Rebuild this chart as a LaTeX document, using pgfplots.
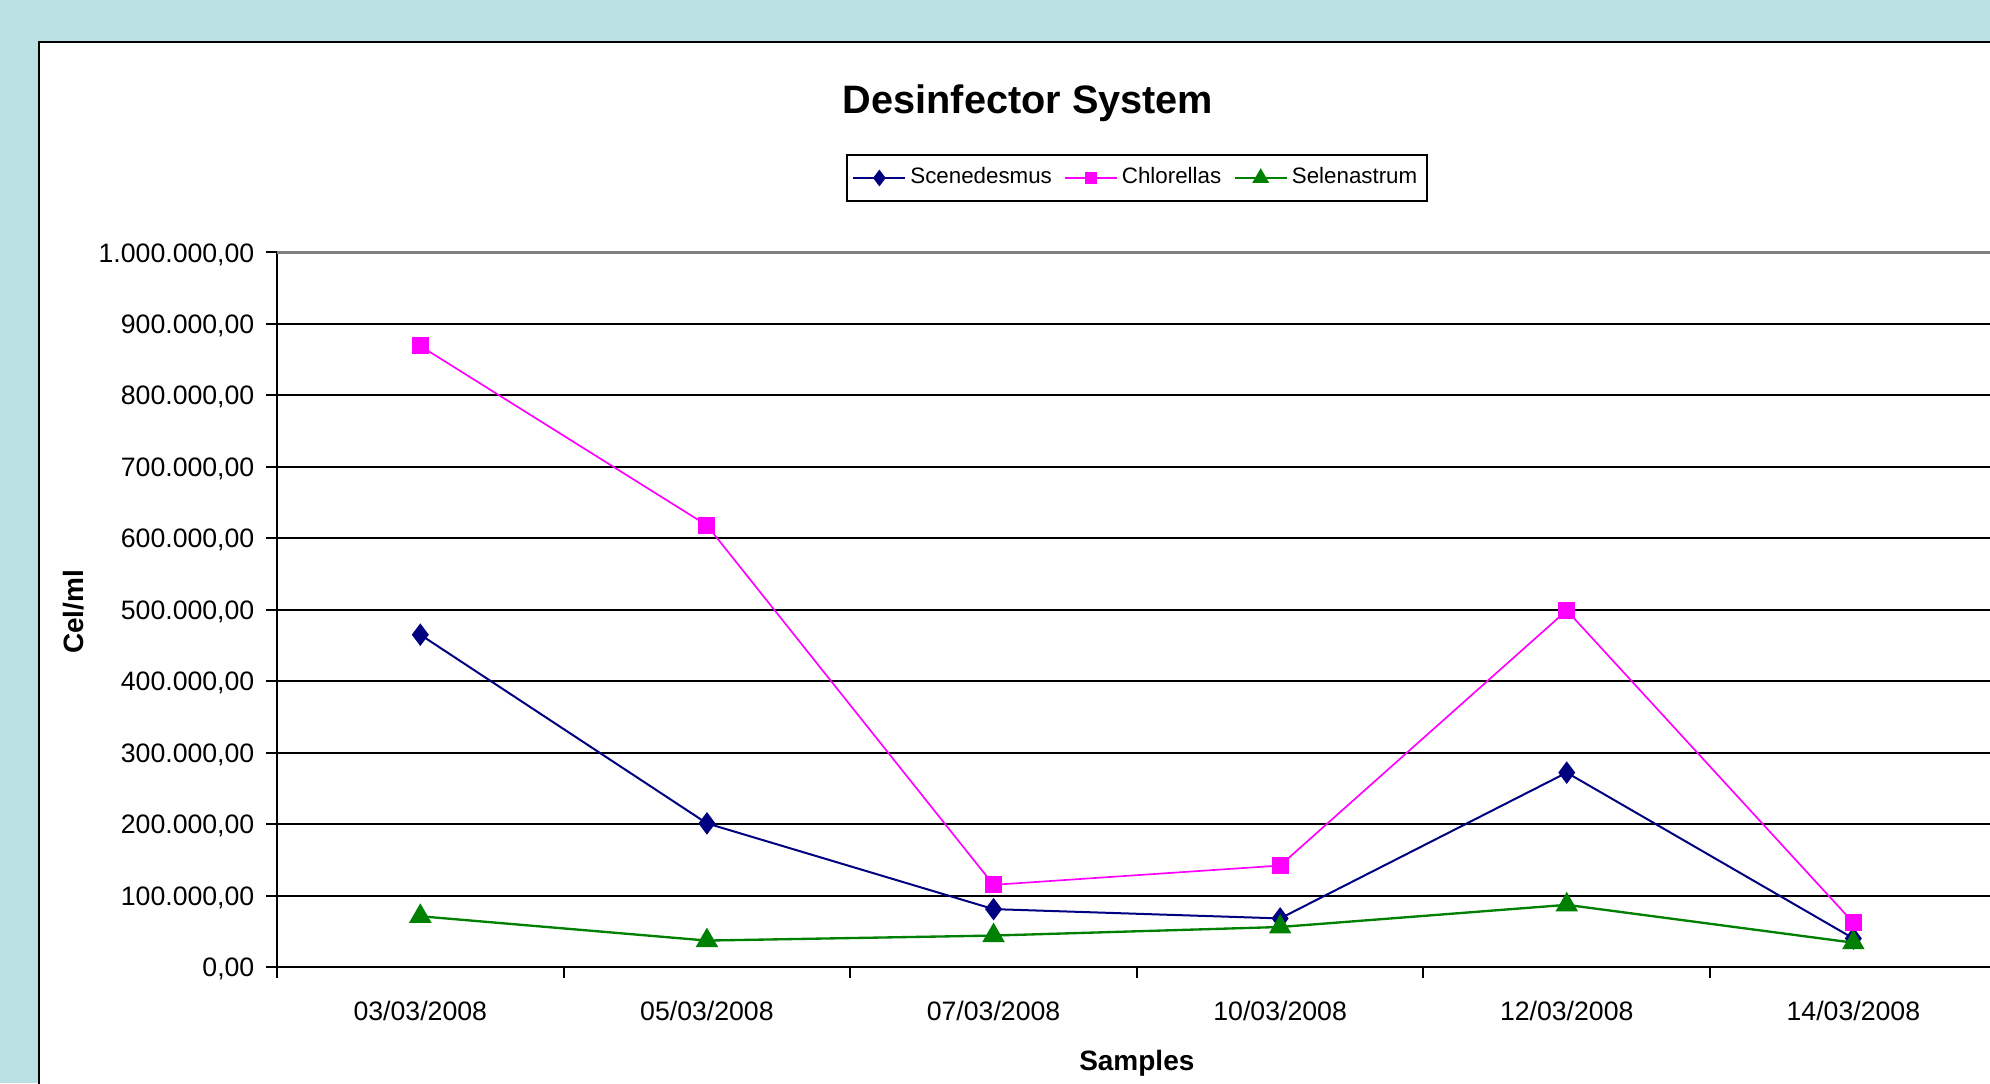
\documentclass[border=0pt]{standalone}
\usepackage{fontspec}
\setmainfont{Liberation Sans}
\usepackage{pgfplots}
\pgfplotsset{compat=1.18}
\definecolor{bgteal}{RGB}{186,224,227}
\definecolor{scen}{RGB}{0,0,128}
\definecolor{chlor}{RGB}{255,0,255}
\definecolor{selen}{RGB}{0,128,0}
\definecolor{topgray}{RGB}{128,128,128}
\begin{document}
\begin{tikzpicture}
\fill[bgteal] (0,0) rectangle (597pt,324.9pt);
\fill[white] (11.7pt,-2pt) rectangle (602pt,312.3pt);
\draw[black,line width=0.7pt] (11.7pt,-2pt) -- (11.7pt,312.3pt) -- (602pt,312.3pt);
\begin{axis}[
  at={(83.1pt,34.8pt)}, anchor=south west,
  scale only axis, width=515.9pt, height=214.4pt,
  xmin=-0.5, xmax=5.5, ymin=0, ymax=1000000,
  axis x line*=bottom, axis y line*=left,
  axis line style={line width=0.6pt, black, -},
  tick align=outside, major tick length=3.2pt,
  tick style={black, line width=0.6pt},
  ytick={0,100000,...,900000},
  extra y ticks={1000000},
  extra y tick style={grid style={topgray, line width=0.7pt}},
  ymajorgrids, grid style={black, line width=0.6pt},
  scaled y ticks=false,
  /pgf/number format/.cd, fixed, fixed zerofill, precision=2, use comma, 1000 sep={.}, assume math mode=true,
  /pgfplots/.cd,
  yticklabel style={font=\fontsize{8}{9.6}\selectfont, anchor=base east, inner sep=0pt, xshift=-3.4pt, yshift=-2.9pt},
  xtick={-0.5,0.5,...,5.5},
  xticklabels={},
  extra x ticks={0,1,2,3,4,5},
  extra x tick labels={03/03/2008,05/03/2008,07/03/2008,10/03/2008,12/03/2008,14/03/2008},
  extra x tick style={major tick length=0pt, xticklabel style={font=\fontsize{8}{9.6}\selectfont, anchor=base, inner sep=0pt, yshift=-15.9pt}},
  title={Desinfector System},
  title style={at={(axis description cs:0.4367,1.1656)}, anchor=base, inner sep=0pt, font=\bfseries\fontsize{11.9}{14.3}\selectfont},
  xlabel={Samples},
  xlabel style={at={(axis description cs:0.5,-0.1441)}, anchor=base, inner sep=0pt, font=\bfseries\fontsize{8.4}{10}\selectfont},
  ylabel={Cel/ml},
  ylabel style={at={(axis description cs:-0.1126,0.497)}, anchor=base, inner sep=0pt, font=\bfseries\fontsize{8.4}{10}\selectfont},
  legend columns=-1,
  legend style={at={(axis description cs:0.5,1.104)}, anchor=center, draw=black, line width=0.6pt,
    font=\fontsize{6.7}{8}\selectfont, inner xsep=1.7pt, inner ysep=2.6pt,
    nodes={inner sep=1.2pt},
    /tikz/every even column/.append style={column sep=2.5pt}},
  legend image code/.code={\draw[mark repeat=2,mark phase=2,mark options={scale=0.7}] plot coordinates {(0pt,0pt) (7.8pt,0pt) (15.6pt,0pt)};},
]
\addplot[color=scen, line width=0.6pt, mark=diamond*, mark size=2.9pt] coordinates {
  (0,465000) (1,201000) (2,81000) (3,68000) (4,272000) (5,40000)};
\addlegendentry{Scenedesmus}
\addplot[color=chlor, line width=0.5pt, mark=square*, mark size=2.3pt] coordinates {
  (0,869000) (1,618000) (2,115000) (3,142000) (4,499000) (5,62000)};
\addlegendentry{Chlorellas}
\addplot[color=selen, line width=0.7pt, mark=triangle*, mark size=3.2pt] coordinates {
  (0,71000) (1,37000) (2,44000) (3,56000) (4,87000) (5,34000)};
\addlegendentry{Selenastrum}
\end{axis}
\pgfresetboundingbox
\path[use as bounding box] (0,0) rectangle (597pt,324.9pt);
\end{tikzpicture}
\end{document}
